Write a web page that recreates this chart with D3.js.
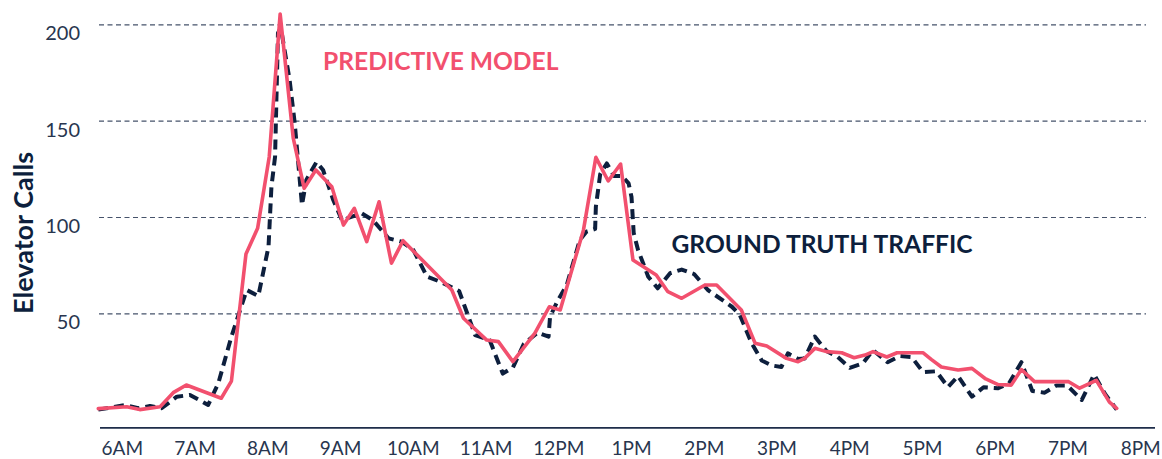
<!DOCTYPE html>
<html>
<head>
<meta charset="utf-8">
<script src="https://cdn.jsdelivr.net/npm/d3@7"></script>
<style>
  html, body { margin: 0; padding: 0; background: #ffffff; }
  svg { display: block; }
</style>
</head>
<body>
<svg id="chart" width="1162" height="459"></svg>
<script>
// ---------------- data (time in hours of the day, value = elevator calls) ----------------
const hourTicks = [6, 7, 8, 9, 10, 11, 12, 13, 14, 15, 16, 17, 18, 19, 20];
const hourLabels = ["6AM", "7AM", "8AM", "9AM", "10AM", "11AM", "12PM", "1PM", "2PM", "3PM", "4PM", "5PM", "6PM", "7PM", "8PM"];
const callTicks = [50, 100, 150, 200];

const predictedTime = [6.00, 6.39, 6.57, 6.85, 7.03, 7.21, 7.69, 7.83, 8.03, 8.19, 8.35, 8.50, 8.68, 8.83, 8.99,
  9.21, 9.37, 9.52, 9.69, 9.86, 10.03, 10.19, 10.86, 11.02, 11.34, 11.50, 11.70, 12.00, 12.20, 12.35, 12.67,
  12.84, 13.01, 13.18, 13.35, 13.67, 13.83, 14.02, 14.34, 14.50, 14.84, 15.03, 15.19, 15.46, 15.62, 15.71,
  15.85, 16.01, 16.22, 16.39, 16.54, 16.65, 16.84, 16.98, 17.34, 17.45, 17.59, 17.82, 18.01, 18.20, 18.37,
  18.55, 18.69, 18.87, 19.34, 19.49, 19.72, 19.90, 20.00];
const predictedCalls = [0.5, 1.5, 0, 1.5, 8.8, 12.8, 5.9, 14.8, 80.8, 94.1, 131.3, 205.4, 140.9, 114.9, 124.4,
  115.7, 95.8, 104.5, 87.2, 107.9, 76.0, 87.7, 62.1, 47.4, 36.1, 35.3, 24.9, 39.6, 53.4, 51.7, 93.3,
  131.0, 118.7, 127.5, 77.7, 69.9, 61.2, 57.8, 64.7, 64.7, 51.7, 34.4, 33.0, 26.6, 24.9, 26.6,
  31.8, 30.1, 29.5, 26.9, 28.3, 30.1, 27.3, 29.5, 29.5, 26.1, 22.1, 20.6, 21.4, 15.9, 13.0,
  12.7, 20.8, 14.5, 14.5, 11.1, 15.2, 3.9, 0.7];

const truthTime = [6.00, 6.37, 6.55, 6.71, 6.87, 7.08, 7.26, 7.51, 7.65, 7.83, 8.04, 8.20, 8.34, 8.38, 8.43,
  8.47, 8.51, 8.63, 8.70, 8.80, 8.86, 9.00, 9.09, 9.23, 9.35, 9.62, 9.78, 9.99, 10.17, 10.33, 10.52, 10.70,
  10.96, 11.18, 11.38, 11.56, 11.70, 11.85, 12.04, 12.19, 12.21, 12.32, 12.44, 12.62, 12.71, 12.83, 12.84,
  12.90, 12.99, 13.09, 13.20, 13.29, 13.33, 13.36, 13.42, 13.56, 13.69, 13.86, 14.02, 14.19, 14.38, 14.71,
  14.82, 14.98, 15.12, 15.26, 15.39, 15.48, 15.62, 15.71, 15.85, 16.01, 16.16, 16.33, 16.51, 16.65, 16.85,
  17.02, 17.18, 17.34, 17.52, 17.68, 17.82, 18.01, 18.17, 18.37, 18.52, 18.69, 18.84, 19.01, 19.17, 19.32,
  19.52, 19.69, 19.84, 20.00];
const truthCalls = [0, 2.4, 0.7, 1.9, 0.7, 6.7, 7.6, 2.4, 13.7, 37.9, 62.1, 59.0, 84.6, 115.7, 131.3,
  195.5, 198.1, 171.1, 148.8, 106.2, 119.2, 128.6, 124.4, 108.8, 98.4, 101.9, 98.2, 88.9, 87.2, 82.9, 69.0, 66.4,
  61.6, 38.7, 36.1, 18.7, 21.9, 34.1, 40.0, 37.9, 48.2, 56.9, 64.7, 88.1, 92.4, 93.8, 105.3,
  122.3, 127.8, 121.3, 121.3, 117.5, 110.4, 91.7, 82.9, 69.0, 63.0, 70.8, 72.7, 70.4, 62.1, 53.4,
  49.1, 34.6, 25.5, 22.9, 22.1, 29.2, 26.3, 26.5, 37.9, 30.4, 27.5, 21.7, 24.0, 30.9, 24.6,
  27.8, 27.3, 19.4, 19.9, 11.7, 17.4, 6.7, 11.6, 11.1, 13.7, 24.6, 9.7, 8.8, 12.5, 12.5,
  5.0, 18.2, 8.1, 0];

const annotationText = ["PREDICTIVE MODEL", "GROUND TRUTH TRAFFIC"];
const annotationTime = [9.09, 13.88];
const annotationCalls = [176.3, 81.3];

// ---------------- styles / layout ----------------
const PINK = "#f2506e";
const NAVY = "#0d1f3d";
const AXIS_TEXT = "#28364f";
const GRID = "#46536b";
const FONT = "Lato, 'Open Sans', sans-serif";

const svg = d3.select("#chart");

const x = d3.scaleLinear().domain([6, 20]).range([98.3, 1116.7]);
const y = d3.scaleLinear().domain([0, 200]).range([409.6, 24.4]);
const axisFloor = -9.5;   // value where the baseline is drawn
const gridLeft = 99, gridRight = 1146, axisRight = 1155;

// gridlines + y tick labels via axisLeft
const yAxis = d3.axisLeft(y)
  .tickValues(callTicks)
  .tickSizeInner(-(gridRight - gridLeft))
  .tickSizeOuter(0)
  .tickPadding(19)
  .tickFormat(d3.format("d"));

const gy = svg.append("g")
  .attr("transform", `translate(${gridLeft},0)`)
  .call(yAxis);
gy.select(".domain").remove();
gy.selectAll(".tick line")
  .attr("stroke", GRID)
  .attr("stroke-width", 1.2)
  .attr("stroke-dasharray", "5,3.5");
gy.selectAll(".tick text")
  .attr("dy", "15.5")
  .attr("fill", AXIS_TEXT)
  .style("font-family", FONT)
  .style("font-size", "20px");

// x axis baseline
svg.append("line")
  .attr("x1", gridLeft + 1).attr("x2", axisRight)
  .attr("y1", y(axisFloor)).attr("y2", y(axisFloor))
  .attr("stroke", "#1e2d4a")
  .attr("stroke-width", 1.6);

// x tick labels via axisBottom
const xAxis = d3.axisBottom(x)
  .tickValues(hourTicks)
  .tickSize(0)
  .tickPadding(0)
  .tickFormat((d, i) => hourLabels[i]);
const gx = svg.append("g")
  .attr("transform", `translate(0,${y(axisFloor)})`)
  .call(xAxis);
gx.select(".domain").remove();
gx.selectAll(".tick text")
  .attr("y", 27)
  .attr("dy", 0)
  .attr("dx", 23.5)
  .attr("fill", AXIS_TEXT)
  .style("font-family", FONT)
  .style("font-size", "19px");

// y axis title
svg.append("text")
  .attr("transform", `translate(33,233) rotate(-90)`)
  .attr("text-anchor", "middle")
  .attr("fill", NAVY)
  .style("font-family", FONT)
  .style("font-weight", "bold")
  .style("font-size", "27px")
  .text("Elevator Calls");

// lines
const line = d3.line()
  .x(d => x(d[0]))
  .y(d => y(d[1]));

const truthData = truthTime.map((t, i) => [t, truthCalls[i]]);
const predData = predictedTime.map((t, i) => [t, predictedCalls[i]]);

svg.append("path")
  .datum(truthData)
  .attr("d", line)
  .attr("fill", "none")
  .attr("stroke", NAVY)
  .attr("stroke-width", 4)
  .attr("stroke-dasharray", "10,6")
  .attr("stroke-linejoin", "round");

svg.append("path")
  .datum(predData)
  .attr("d", line)
  .attr("fill", "none")
  .attr("stroke", PINK)
  .attr("stroke-width", 3.6)
  .attr("stroke-linejoin", "round")
  .attr("stroke-linecap", "round");

// annotations
const annColors = [PINK, NAVY];
svg.selectAll("text.ann")
  .data(annotationText)
  .join("text")
  .attr("class", "ann")
  .attr("x", (d, i) => x(annotationTime[i]))
  .attr("y", (d, i) => y(annotationCalls[i]))
  .attr("fill", (d, i) => annColors[i])
  .style("font-family", FONT)
  .style("font-weight", "bold")
  .style("font-size", "24.6px")
  .text(d => d);
</script>
</body>
</html>
